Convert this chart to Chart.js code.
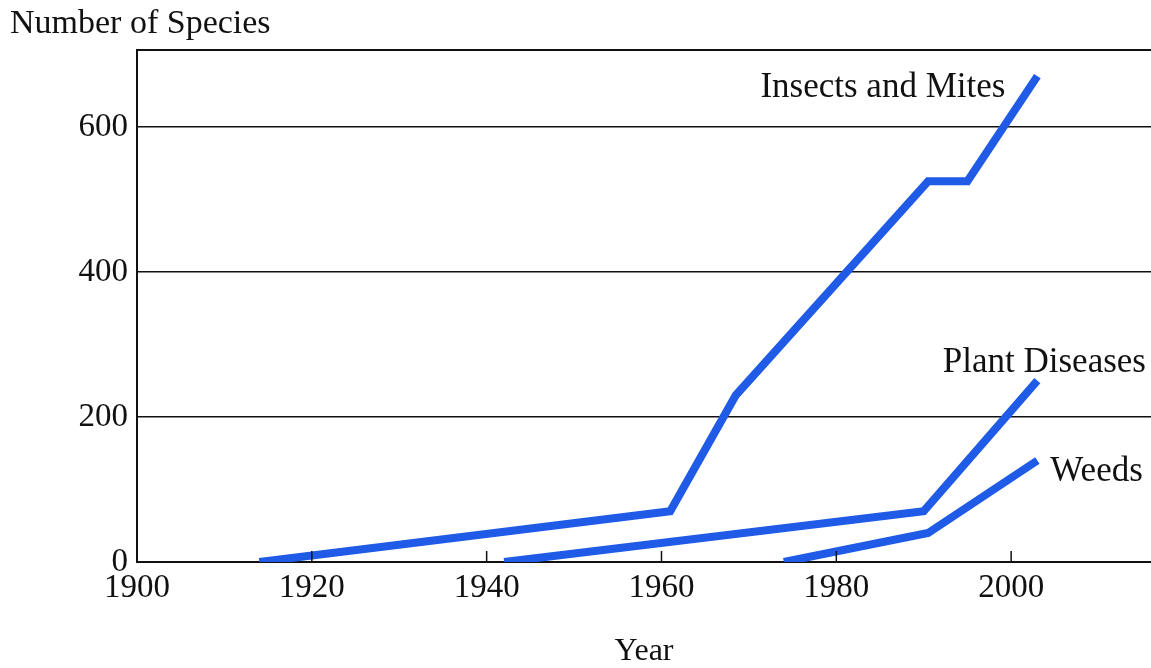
<!DOCTYPE html>
<html>
<head>
<meta charset="utf-8">
<script src="https://cdn.jsdelivr.net/npm/chart.js@4.4.1/dist/chart.umd.min.js"></script>
<style>
  html, body { margin: 0; background: #fff; }
  #wrap { width: 1151px; height: 668px; }
</style>
</head>
<body>
<div id="wrap"><canvas id="c"></canvas></div>
<script>
// valores
const xTicks = [1900, 1920, 1940, 1960, 1980, 2000];
const yTicks = [0, 200, 400, 600];
const seriesNames = ['Insects and Mites', 'Plant Diseases', 'Weeds'];
const insectYears = [1914, 1961, 1968.5, 1990.5, 1995, 2003];
const insectCounts = [0, 70, 230, 525, 525, 670];
const diseaseYears = [1942, 1990, 2003];
const diseaseCounts = [0, 70, 250];
const weedYears = [1974, 1990.5, 2003];
const weedCounts = [0, 40, 140];

const serif = "'Liberation Serif', 'Times New Roman', serif";
const blue = '#1f5be6';

const toPoints = (xs, ys) => xs.map((x, i) => ({ x: x, y: ys[i] }));

// etiquetas junto al final de cada serie
const seriesLabels = {
  id: 'seriesLabels',
  afterDatasetsDraw(chart) {
    const ctx = chart.ctx;
    const place = [
      { align: 'right', dx: -32, dy: 12 },
      { align: 'center', dx: 7, dy: -18 },
      { align: 'left', dx: 13, dy: 11 }
    ];
    ctx.save();
    ctx.fillStyle = '#111';
    ctx.font = '35px ' + serif;
    ctx.textBaseline = 'middle';
    chart.data.datasets.forEach((ds, i) => {
      const pts = chart.getDatasetMeta(i).data;
      const last = pts[pts.length - 1];
      ctx.textAlign = place[i].align;
      ctx.fillText(ds.label, last.x + place[i].dx, last.y + place[i].dy);
    });
    ctx.restore();
  }
};

// marco superior, marcas hacia dentro y título del eje y
const frame = {
  id: 'frame',
  afterDraw(chart) {
    const ctx = chart.ctx;
    const a = chart.chartArea;
    const xs = chart.scales.x;
    ctx.save();
    ctx.strokeStyle = '#111';
    ctx.lineWidth = 2;
    ctx.beginPath();
    ctx.moveTo(a.left, a.top);
    ctx.lineTo(a.right, a.top);
    ctx.stroke();
    ctx.lineWidth = 1.5;
    xTicks.slice(1).forEach(v => {
      const px = xs.getPixelForValue(v);
      ctx.beginPath();
      ctx.moveTo(px, a.bottom);
      ctx.lineTo(px, a.bottom - 11);
      ctx.stroke();
    });
    ctx.fillStyle = '#111';
    ctx.font = '34px ' + serif;
    ctx.textAlign = 'left';
    ctx.textBaseline = 'middle';
    ctx.fillText('Number of Species', 10, 24);
    ctx.restore();
  }
};

const lineStyle = {
  borderColor: blue,
  borderWidth: 8,
  pointRadius: 0,
  fill: false,
  tension: 0,
  borderCapStyle: 'butt',
  borderJoinStyle: 'miter'
};

new Chart(document.getElementById('c'), {
  type: 'line',
  data: {
    datasets: [
      Object.assign({ label: seriesNames[0], data: toPoints(insectYears, insectCounts) }, lineStyle),
      Object.assign({ label: seriesNames[1], data: toPoints(diseaseYears, diseaseCounts) }, lineStyle),
      Object.assign({ label: seriesNames[2], data: toPoints(weedYears, weedCounts) }, lineStyle)
    ]
  },
  options: {
    responsive: true,
    maintainAspectRatio: false,
    animation: false,
    layout: { padding: { top: 50, right: 0, left: 0, bottom: 0 } },
    plugins: { legend: { display: false }, tooltip: { enabled: false } },
    scales: {
      x: {
        type: 'linear',
        min: 1900,
        max: 2016,
        afterBuildTicks: s => { s.ticks = xTicks.map(v => ({ value: v })); },
        afterFit: s => { s.height = 106; },
        grid: { display: false, drawTicks: false },
        border: { display: true, color: '#111', width: 2 },
        ticks: { padding: 7, color: '#111', font: { family: serif, size: 33 }, callback: v => String(v) },
        title: { display: true, text: 'Year', color: '#111', font: { family: serif, size: 32, lineHeight: 1.0 }, padding: { top: 0, bottom: 0 } }
      },
      y: {
        min: 0,
        max: 706,
        afterBuildTicks: s => { s.ticks = yTicks.map(v => ({ value: v })); },
        afterFit: s => { s.width = 137; },
        grid: { color: '#111', lineWidth: v => (v.tick && v.tick.value === 0 ? 0 : 1.5), drawTicks: false },
        border: { display: true, color: '#111', width: 2 },
        ticks: { padding: 9, color: '#111', font: { family: serif, size: 33 }, callback: v => String(v) }
      }
    }
  },
  plugins: [seriesLabels, frame]
});
</script>
</body>
</html>
